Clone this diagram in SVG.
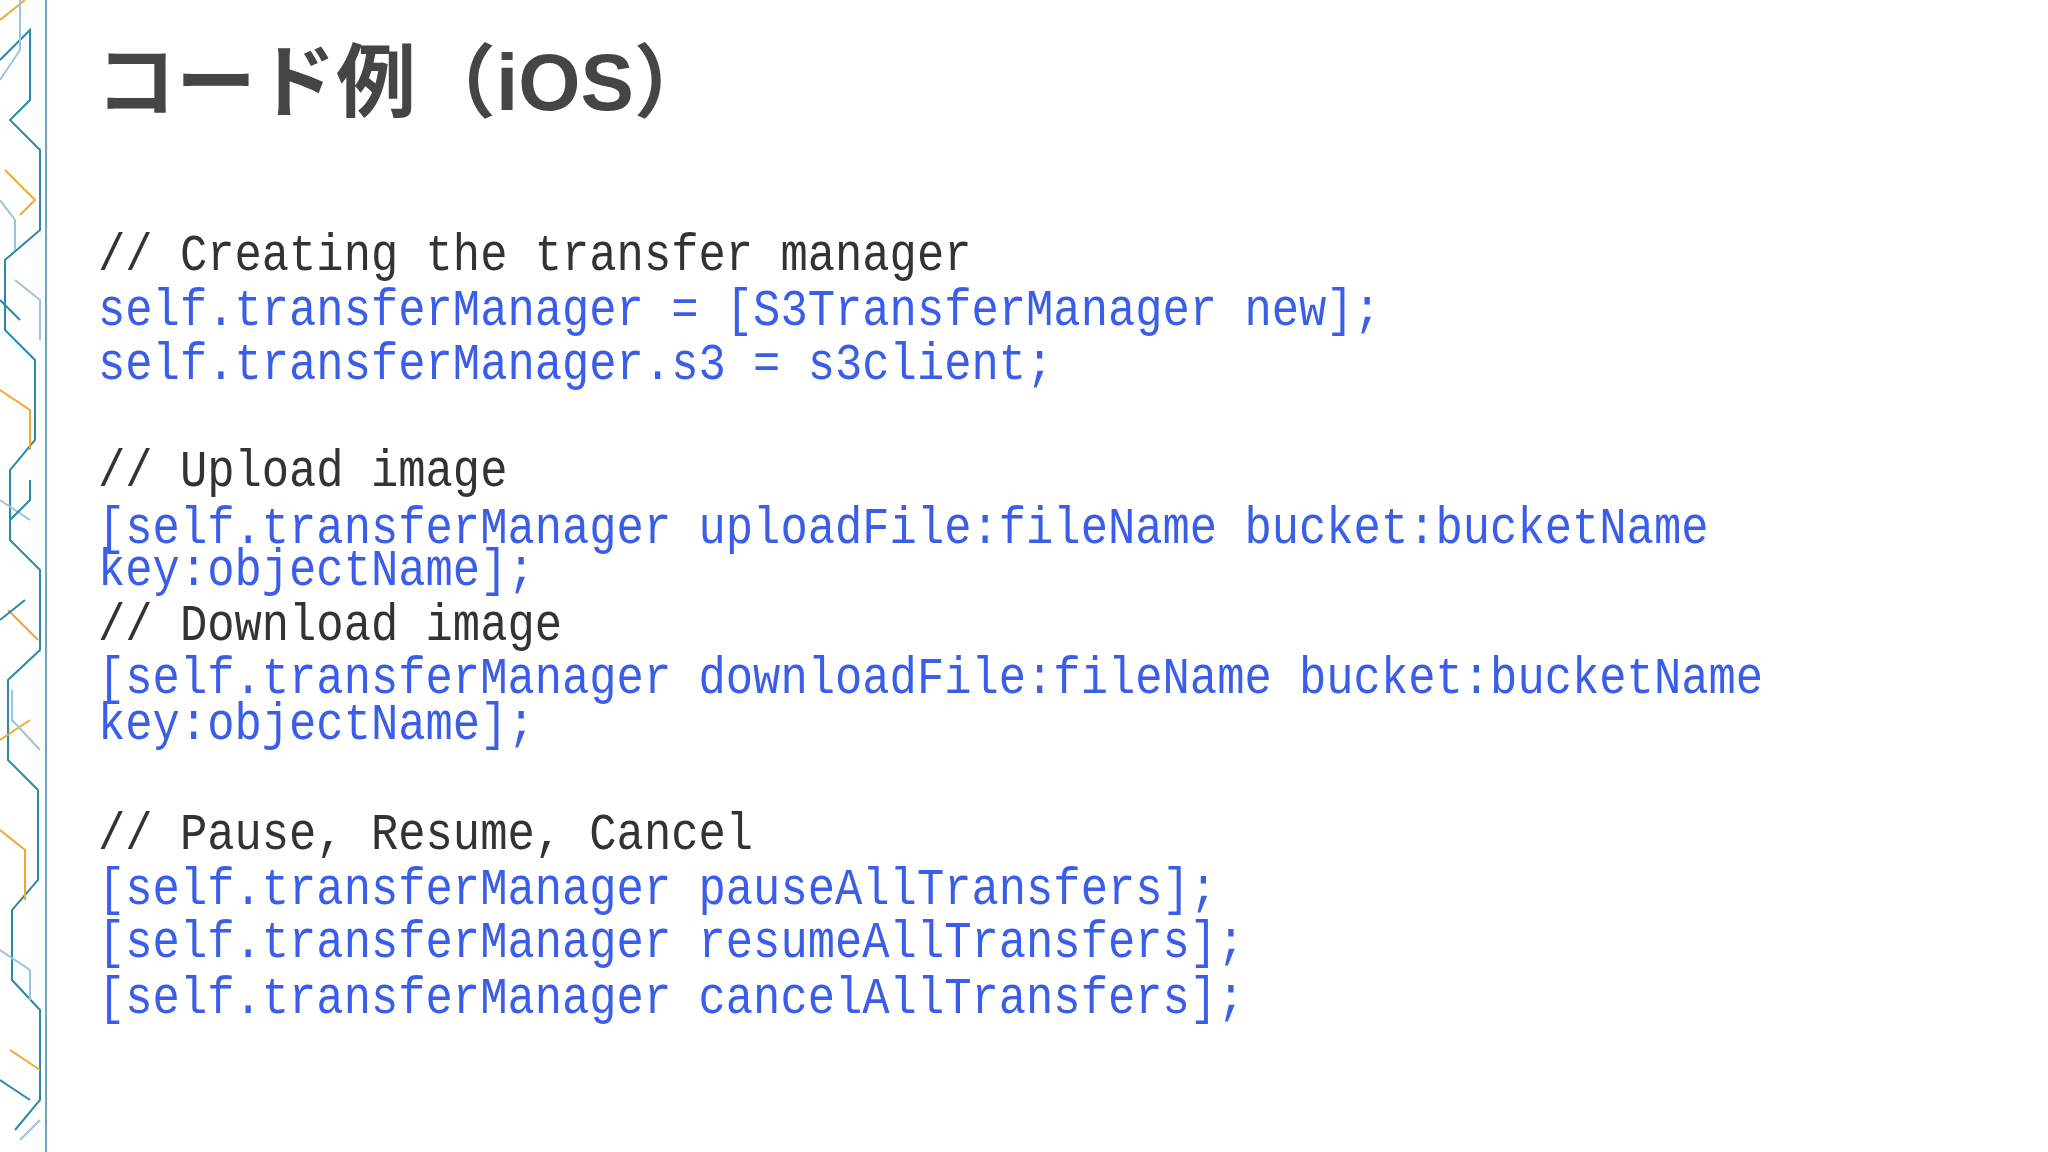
<svg xmlns="http://www.w3.org/2000/svg" width="2048" height="1152" viewBox="0 0 2048 1152">
<style>
.t{font-family:"Liberation Sans","Noto Sans CJK JP",sans-serif;font-weight:bold;font-size:80px;fill:#454545}
.c{font-family:"Liberation Mono","DejaVu Sans Mono",monospace;font-size:52px}
.cm{fill:#333333}
.bl{fill:#3a5ee8}
.d1{fill:none;stroke:#2a8aa8;stroke-width:2}
.d2{fill:none;stroke:#f0a830;stroke-width:2}
.d3{fill:none;stroke:#9cc4dc;stroke-width:2}
</style>
<rect width="2048" height="1152" fill="#ffffff"/>
<g id="border">
<line x1="46" y1="0" x2="46" y2="1152" stroke="#6aa8c0" stroke-width="2"/>
<path class="d1" d="M0 60 L30 30 L30 100 L10 120 L40 150 L40 230 L5 260 L5 330 L35 360 L35 440 L10 470 L10 540 L40 570 L40 650 L8 680 L8 760 L38 790 L38 880 L12 910 L12 980 L40 1010 L40 1100 L15 1130"/>
<path class="d2" d="M0 20 L25 0 M5 170 L35 200 L20 215 M0 390 L30 410 L30 450 M8 610 L38 640 M0 830 L25 850 L25 900 M10 1050 L40 1070 M0 740 L30 720"/>
<path class="d3" d="M20 0 L20 50 L0 80 M15 280 L40 300 L40 340 M0 500 L30 520 M12 690 L12 720 L40 750 M0 950 L30 970 L30 1000 M20 1140 L40 1120 M0 200 L15 220 L15 250"/>
<path class="d1" d="M0 300 L20 320 M25 600 L0 620 M0 1080 L30 1100 M30 480 L30 500 L10 520"/>
</g>
<g id="title">
<text class="t" x="96" y="110">コード例（iOS）</text>
</g>
<g id="code" transform="scale(0.875 1)">
<text class="c cm" x="112" y="270">// Creating the transfer manager</text>
<text class="c bl" x="112" y="325">self.transferManager = [S3TransferManager new];</text>
<text class="c bl" x="112" y="379">self.transferManager.s3 = s3client;</text>
<text class="c cm" x="112" y="486">// Upload image</text>
<text class="c bl" x="112" y="543">[self.transferManager uploadFile:fileName bucket:bucketName</text>
<text class="c bl" x="112" y="585">key:objectName];</text>
<text class="c cm" x="112" y="640">// Download image</text>
<text class="c bl" x="112" y="693">[self.transferManager downloadFile:fileName bucket:bucketName</text>
<text class="c bl" x="112" y="739">key:objectName];</text>
<text class="c cm" x="112" y="849">// Pause, Resume, Cancel</text>
<text class="c bl" x="112" y="904">[self.transferManager pauseAllTransfers];</text>
<text class="c bl" x="112" y="957">[self.transferManager resumeAllTransfers];</text>
<text class="c bl" x="112" y="1013">[self.transferManager cancelAllTransfers];</text>
</g>
</svg>
